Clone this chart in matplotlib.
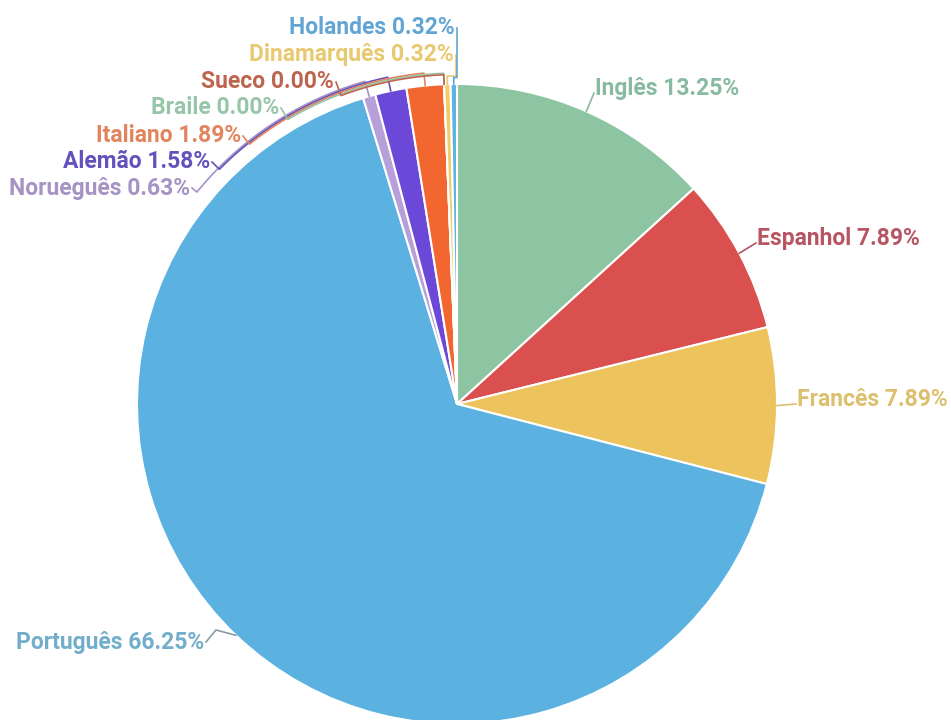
import numpy as np
from matplotlib import pyplot as plt

# idiomas e percentuais (sentido horário a partir do topo)
idiomas = ["Inglês", "Espanhol", "Francês", "Português", "Norueguês", "Alemão",
           "Italiano", "Braile", "Sueco", "Dinamarquês", "Holandes"]
percentuais = [13.25, 7.89, 7.89, 66.25, 0.63, 1.58, 1.89, 0.00, 0.00, 0.32, 0.32]

cores = ["#8dc5a2", "#d9504f", "#ecc35c", "#5bb2e1", "#b79fd9", "#6b48d8",
         "#f2672f", "#8dc5a2", "#c9674e", "#f0cd6a", "#5fb0e3"]
cores_texto = ["#88b9a2", "#b85563", "#dcc06e", "#72aecb", "#a593c4", "#6452bc",
               "#e2855e", "#97c5a8", "#bd654f", "#e9c96f", "#62a5d4"]

# posição dos rótulos (px, y de cima para baixo) e alinhamento
pos_rotulos = {
    "Inglês": (595, 88, "left"),
    "Espanhol": (757, 238, "left"),
    "Francês": (797, 399, "left"),
    "Português": (204, 642, "right"),
    "Norueguês": (190, 188, "right"),
    "Alemão": (210, 162, "right"),
    "Italiano": (241, 136, "right"),
    "Braile": (279, 108, "right"),
    "Sueco": (334, 82, "right"),
    "Dinamarquês": (454, 55, "right"),
    "Holandes": (455, 28, "right"),
}
pequenos = ["Norueguês", "Alemão", "Italiano", "Braile", "Sueco", "Dinamarquês", "Holandes"]

W, H = 951, 720
cx, cy, raio = 457, H - 404, 320

plt.rcParams['font.family'] = ['Roboto', 'DejaVu Sans']
fig = plt.figure(figsize=(W / 100, H / 100), dpi=100)
ax = fig.add_axes([0, 0, 1, 1])

ax.pie(percentuais, colors=cores, startangle=90, counterclock=False,
       center=(cx, cy), radius=raio,
       wedgeprops=dict(edgecolor="white", linewidth=1.5))
ax.set_xlim(0, W)
ax.set_ylim(0, H)
ax.set_aspect("equal")
ax.axis("off")

total = sum(percentuais)
acum = np.cumsum([0] + percentuais[:-1]) / total
frac = np.array(percentuais) / total
ang_meio = 90 - 360 * (acum + frac / 2)  # ângulo central de cada fatia

for i, nome in enumerate(idiomas):
    px, py, ha = pos_rotulos[nome]
    ty = H - py
    ax.text(px, ty, f"{nome} {percentuais[i]:.2f}%", color=cores_texto[i],
            fontsize=16.5, fontweight="semibold", ha=ha, va="center")

    th = np.deg2rad(ang_meio[i])
    borda = (cx + raio * np.cos(th), cy + raio * np.sin(th))

    if nome in pequenos:
        k = pequenos.index(nome)
        ra = raio + 5 + 1.5 * (len(pequenos) - k)
        fim = (px + 2, ty)
        phi = np.arctan2(fim[1] - cy, fim[0] - cx)
        th_m = th % (2 * np.pi)
        if th_m > phi + np.pi:
            th_m -= 2 * np.pi
        arco = np.linspace(phi, th_m, 60)
        xs = [fim[0]] + list(cx + ra * np.cos(arco)) + [borda[0]]
        ys = [fim[1]] + list(cy + ra * np.sin(arco)) + [borda[1]]
        ax.plot(xs, ys, color=cores_texto[i], lw=1.2)
    elif nome == "Português":
        ax.plot([px + 2, px + 12, borda[0]], [ty, ty + 12, borda[1]],
                color="#8a9aa2", lw=1.2)
    else:
        ax.plot([borda[0], px - 1], [borda[1], ty - 5], color=cores_texto[i], lw=1.2)

fig.savefig("out.png", dpi=100, facecolor="white")
